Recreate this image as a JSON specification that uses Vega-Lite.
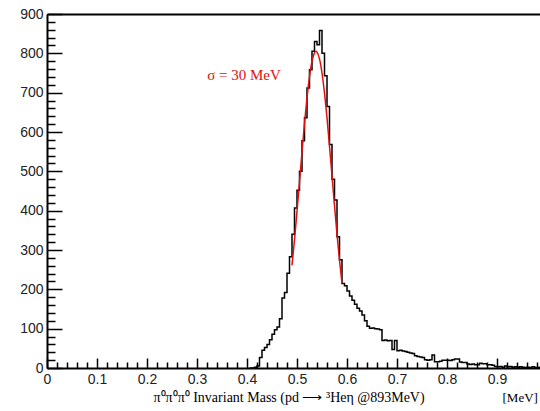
{
  "$schema": "https://vega.github.io/schema/vega-lite/v6.json",
  "width": 493,
  "height": 354,
  "autosize": "none",
  "padding": {"left": 47, "top": 14, "right": 0, "bottom": 43},
  "background": "white",
  "config": {
    "view": {"stroke": null},
    "axis": {"grid": false, "labelFlush": false, "labelOverlap": false, "tickColor": "black", "domainColor": "black"}
  },
  "datasets": {
    "hist": [
      {"m": 0.405, "n": 0}, {"m": 0.41, "n": 0}, {"m": 0.415, "n": 2}, {"m": 0.42, "n": 5},
      {"m": 0.425, "n": 27}, {"m": 0.43, "n": 45}, {"m": 0.435, "n": 52}, {"m": 0.44, "n": 60},
      {"m": 0.445, "n": 72}, {"m": 0.45, "n": 86}, {"m": 0.455, "n": 97}, {"m": 0.46, "n": 104},
      {"m": 0.465, "n": 125}, {"m": 0.47, "n": 178}, {"m": 0.475, "n": 192}, {"m": 0.48, "n": 241},
      {"m": 0.485, "n": 283}, {"m": 0.49, "n": 340}, {"m": 0.495, "n": 407}, {"m": 0.5, "n": 452},
      {"m": 0.505, "n": 500}, {"m": 0.51, "n": 578}, {"m": 0.515, "n": 636}, {"m": 0.52, "n": 712},
      {"m": 0.525, "n": 758}, {"m": 0.53, "n": 805}, {"m": 0.535, "n": 830}, {"m": 0.54, "n": 822},
      {"m": 0.545, "n": 858}, {"m": 0.55, "n": 800}, {"m": 0.555, "n": 743}, {"m": 0.56, "n": 665},
      {"m": 0.565, "n": 568}, {"m": 0.57, "n": 480}, {"m": 0.575, "n": 427}, {"m": 0.58, "n": 334},
      {"m": 0.585, "n": 275}, {"m": 0.59, "n": 215}, {"m": 0.595, "n": 209}, {"m": 0.6, "n": 196},
      {"m": 0.605, "n": 183}, {"m": 0.61, "n": 172}, {"m": 0.615, "n": 162}, {"m": 0.62, "n": 152},
      {"m": 0.625, "n": 145}, {"m": 0.63, "n": 135}, {"m": 0.635, "n": 120}, {"m": 0.64, "n": 106},
      {"m": 0.645, "n": 101}, {"m": 0.65, "n": 102}, {"m": 0.655, "n": 100}, {"m": 0.66, "n": 99},
      {"m": 0.665, "n": 97}, {"m": 0.67, "n": 70}, {"m": 0.675, "n": 71}, {"m": 0.68, "n": 69},
      {"m": 0.685, "n": 70}, {"m": 0.69, "n": 47}, {"m": 0.695, "n": 70}, {"m": 0.7, "n": 44},
      {"m": 0.705, "n": 45}, {"m": 0.71, "n": 43}, {"m": 0.715, "n": 42}, {"m": 0.72, "n": 40},
      {"m": 0.725, "n": 38}, {"m": 0.73, "n": 37}, {"m": 0.735, "n": 31}, {"m": 0.74, "n": 29},
      {"m": 0.745, "n": 28}, {"m": 0.75, "n": 27}, {"m": 0.755, "n": 21}, {"m": 0.76, "n": 20},
      {"m": 0.765, "n": 21}, {"m": 0.77, "n": 33}, {"m": 0.775, "n": 16}, {"m": 0.78, "n": 16},
      {"m": 0.785, "n": 17}, {"m": 0.79, "n": 20}, {"m": 0.795, "n": 20}, {"m": 0.8, "n": 20},
      {"m": 0.805, "n": 19}, {"m": 0.81, "n": 21}, {"m": 0.815, "n": 23}, {"m": 0.82, "n": 23},
      {"m": 0.825, "n": 15}, {"m": 0.83, "n": 14}, {"m": 0.835, "n": 14}, {"m": 0.84, "n": 10},
      {"m": 0.845, "n": 9}, {"m": 0.85, "n": 10}, {"m": 0.855, "n": 8}, {"m": 0.86, "n": 8},
      {"m": 0.865, "n": 12}, {"m": 0.87, "n": 11}, {"m": 0.875, "n": 11}, {"m": 0.88, "n": 8},
      {"m": 0.885, "n": 8}, {"m": 0.89, "n": 7}, {"m": 0.895, "n": 4}, {"m": 0.9, "n": 3},
      {"m": 0.905, "n": 4}, {"m": 0.91, "n": 2}, {"m": 0.915, "n": 5}, {"m": 0.92, "n": 3},
      {"m": 0.925, "n": 4}, {"m": 0.93, "n": 2}, {"m": 0.935, "n": 3}, {"m": 0.94, "n": 2},
      {"m": 0.945, "n": 3}, {"m": 0.95, "n": 2}, {"m": 0.955, "n": 1}, {"m": 0.96, "n": 2},
      {"m": 0.965, "n": 1}, {"m": 0.97, "n": 3}, {"m": 0.975, "n": 1}, {"m": 0.98, "n": 1},
      {"m": 0.985, "n": 2}, {"m": 0.99, "n": 1}, {"m": 0.995, "n": 1}, {"m": 1.0, "n": 1}
    ],
    "fit": [
      {"m": 0.49, "n": 261}, {"m": 0.495, "n": 326}, {"m": 0.5, "n": 398}, {"m": 0.505, "n": 473},
      {"m": 0.51, "n": 549}, {"m": 0.515, "n": 622}, {"m": 0.52, "n": 687}, {"m": 0.525, "n": 741},
      {"m": 0.53, "n": 780}, {"m": 0.535, "n": 801}, {"m": 0.538, "n": 805}, {"m": 0.54, "n": 803},
      {"m": 0.545, "n": 786}, {"m": 0.55, "n": 750}, {"m": 0.555, "n": 699}, {"m": 0.56, "n": 636},
      {"m": 0.565, "n": 564}, {"m": 0.57, "n": 488}, {"m": 0.575, "n": 413}, {"m": 0.58, "n": 340},
      {"m": 0.585, "n": 274}, {"m": 0.59, "n": 215}
    ],
    "ann": [{"m": 0.394, "n": 745, "label": "σ = 30 MeV"}]
  },
  "resolve": {"axis": {"x": "independent", "y": "independent"}},
  "layer": [
    {
      "data": {"name": "hist"},
      "mark": {"type": "line", "interpolate": "step-after", "color": "black", "strokeWidth": 1.5, "clip": true},
      "encoding": {
        "x": {"field": "m", "type": "quantitative", "scale": {"domain": [0, 0.986], "nice": false, "zero": false},
          "axis": {"orient": "bottom", "values": [0, 0.1, 0.2, 0.3, 0.4, 0.5, 0.6, 0.7, 0.8, 0.9], "format": ".1~f",
            "tickSize": -10, "tickWidth": 1.5, "labelPadding": 14, "domainWidth": 2,
            "labelFont": "Liberation Sans", "labelFontSize": 14, "labelColor": "#222",
            "title": "π⁰π⁰π⁰ Invariant Mass (pd ⟶ ³Heη @893MeV)", "titleFont": "Liberation Serif", "titleFontSize": 14,
            "titleFontWeight": "normal", "titleColor": "black", "titleAnchor": "start", "titleX": 106, "titleY": 33, "titleBaseline": "alphabetic"}},
        "y": {"field": "n", "type": "quantitative", "scale": {"domain": [0, 900], "nice": false},
          "axis": {"orient": "left", "values": [0, 100, 200, 300, 400, 500, 600, 700, 800, 900],
            "tickSize": -15, "tickWidth": 1.5, "labelPadding": 19, "domainWidth": 2,
            "labelFont": "Liberation Sans", "labelFontSize": 14, "labelColor": "#222", "title": null}}
      }
    },
    {
      "data": {"name": "fit"},
      "mark": {"type": "line", "interpolate": "monotone", "color": "#e01010", "strokeWidth": 1.5},
      "encoding": {
        "x": {"field": "m", "type": "quantitative",
          "axis": {"orient": "bottom", "values": [0.02, 0.04, 0.06, 0.08, 0.12, 0.14, 0.16, 0.18, 0.22, 0.24, 0.26, 0.28, 0.32, 0.34, 0.36, 0.38, 0.42, 0.44, 0.46, 0.48, 0.52, 0.54, 0.56, 0.58, 0.62, 0.64, 0.66, 0.68, 0.72, 0.74, 0.76, 0.78, 0.82, 0.84, 0.86, 0.88, 0.92, 0.94, 0.96, 0.98],
            "tickSize": -6, "tickWidth": 1.5, "labels": false, "domain": false,
            "title": "[MeV]", "titleFont": "Liberation Serif", "titleFontSize": 13, "titleFontWeight": "normal", "titleColor": "black",
            "titleAnchor": "start", "titleX": 455, "titleY": 33, "titleBaseline": "alphabetic"}},
        "y": {"field": "n", "type": "quantitative",
          "axis": {"orient": "left", "values": [20, 40, 60, 80, 120, 140, 160, 180, 220, 240, 260, 280, 320, 340, 360, 380, 420, 440, 460, 480, 520, 540, 560, 580, 620, 640, 660, 680, 720, 740, 760, 780, 820, 840, 860, 880],
            "tickSize": -8, "tickWidth": 1.5, "labels": false, "domain": false, "title": null}}
      }
    },
    {
      "data": {"name": "ann"},
      "mark": {"type": "text", "color": "#e01010", "font": "Liberation Serif", "fontSize": 15, "align": "center", "baseline": "middle"},
      "encoding": {
        "x": {"field": "m", "type": "quantitative",
          "axis": {"orient": "top", "ticks": false, "labels": false, "domainWidth": 2, "title": null}},
        "y": {"field": "n", "type": "quantitative", "axis": null},
        "text": {"field": "label"}
      }
    }
  ]
}
